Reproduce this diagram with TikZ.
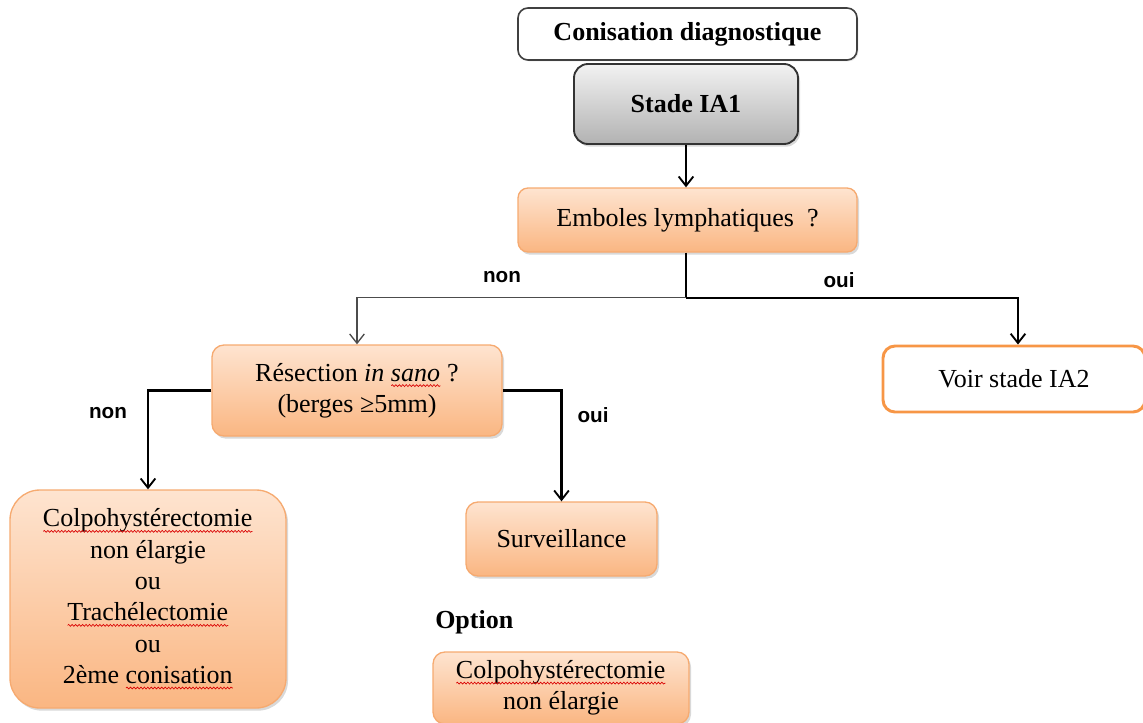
\documentclass[tikz,border=0pt]{standalone}
\usepackage{fontspec}
\setmainfont{Liberation Serif}
\newfontfamily\labelfont{Liberation Sans}
\usetikzlibrary{arrows.meta,shadows,calc,decorations.pathmorphing}
% red spell-check style squiggle under a word
\newsavebox\wavebox
\newdimen\wavew
\newcommand\redwave[1]{\sbox\wavebox{#1}\wavew=\wd\wavebox\leavevmode
  \rlap{\usebox\wavebox}\tikz[baseline=0pt, x=1pt, y=1pt]\draw[sharp corners, solid,
  red!85!black, line width=0.5pt,
  decorate, decoration={snake, amplitude=0.7pt, segment length=2.6pt}]
  (0pt,-3.4pt) -- (\wavew,-3.4pt);}
\newdimen\pxu \pxu=0.75pt
\definecolor{orTop}{RGB}{254,228,208}
\definecolor{orBot}{RGB}{250,182,130}
\definecolor{orLine}{RGB}{246,170,112}
\definecolor{orStrong}{RGB}{247,150,70}
\definecolor{grTop}{RGB}{242,242,242}
\definecolor{grBot}{RGB}{178,178,178}
\tikzset{
  box/.style={draw, align=center, font=\fontsize{19.5}{23.5}\selectfont, inner sep=0pt},
  orbox/.style={box, draw=orLine, line width=1pt, top color=orTop, bottom color=orBot,
    drop shadow={shadow xshift=1.5pt, shadow yshift=-2pt, opacity=0.3}},
  lab/.style={font=\labelfont\bfseries\fontsize{15.5}{18}\selectfont},
  link/.style={line width=1.6pt, black, -{Straight Barb[length=7pt,width=11pt,line width=1.4pt]}},
  thinlink/.style={line width=1.1pt, black!70, -{Straight Barb[length=7pt,width=11pt,line width=1pt]}},
}
\begin{document}
\begin{tikzpicture}[x=0.75pt,y=-0.75pt]
\path[use as bounding box, clip] (0,0) rectangle (1143,722);

% header boxes
\node[box, draw=black!75, line width=1.2pt, fill=white, rounded corners=10\pxu,
  minimum width=339\pxu, minimum height=52\pxu, font=\fontsize{19.5}{23.5}\selectfont\bfseries,
  drop shadow={shadow xshift=1pt, shadow yshift=-1pt, opacity=0.2}]
  (conis) at (687.5,34) {Conisation diagnostique};
\node[box, draw=black!80, line width=1.4pt, top color=grTop, bottom color=grBot, rounded corners=14\pxu,
  minimum width=224\pxu, minimum height=80\pxu, font=\fontsize{19.5}{23.5}\selectfont\bfseries,
  drop shadow={shadow xshift=1.5pt, shadow yshift=-2pt, opacity=0.3}]
  (stade) at (686,104) {Stade IA1};

% decision boxes
\node[orbox, rounded corners=10\pxu, minimum width=339\pxu, minimum height=64\pxu]
  (emb) at (687.5,220) {Emboles lymphatiques\ \ ?};
\node[orbox, rounded corners=12\pxu, minimum width=290\pxu, minimum height=91\pxu]
  (resec) at (357,390.5) {Résection \textit{in \redwave{sano}} ?\\(berges ≥5mm)};
\node[box, draw=orStrong, line width=2.2pt, fill=white, rounded corners=12\pxu,
  minimum width=262\pxu, minimum height=66\pxu]
  (voir) at (1014,379) {Voir stade IA2};

% outcome boxes
\node[orbox, rounded corners=30\pxu, minimum width=276\pxu, minimum height=218\pxu]
  (colpo) at (148,599) {\redwave{Colpohystérectomie}\\non élargie\\ou\\\redwave{Trachélectomie}\\ou\\2ème \redwave{conisation}};
\node[orbox, rounded corners=12\pxu, minimum width=191\pxu, minimum height=74\pxu]
  (surv) at (561.5,539) {Surveillance};
\node[font=\fontsize{19.5}{23.5}\selectfont\bfseries, anchor=west, inner sep=0pt]
  (opt) at (435,622) {Option};
\node[orbox, rounded corners=12\pxu, minimum width=256\pxu, minimum height=72\pxu]
  (colpo2) at (561,688) {\redwave{Colpohystérectomie}\\non élargie};

% connectors
\draw[link] (stade.south) -- (stade.south |- emb.north);
\coordinate (split) at ($(stade.south |- emb.south)+(0,45)$);
\draw[line width=1.6pt] (stade.south |- emb.south) -- (split);
\draw[thinlink] (split) -| (resec.north);
\draw[link] (split) -| ([xshift=4\pxu]voir.north);
\draw[link] (resec.west) -| (colpo.north);
\draw[link] (resec.east) -| (surv.north);

% branch labels
\node[lab] (l1) at (502,277) {non};
\node[lab] (l2) at (839,280) {oui};
\node[lab] (l3) at (108,413) {non};
\node[lab] (l4) at (593,415) {oui};
\end{tikzpicture}
\end{document}
